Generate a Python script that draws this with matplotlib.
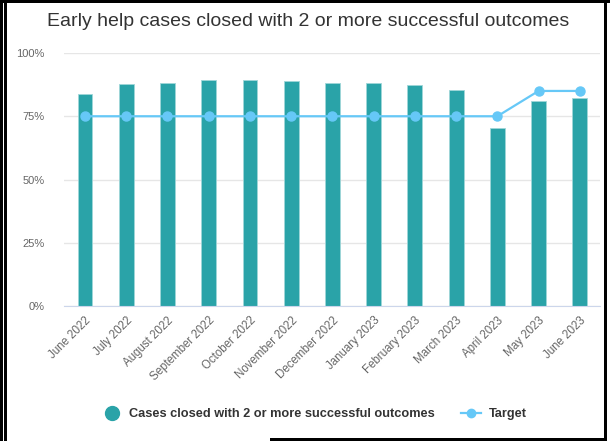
import matplotlib.pyplot as plt
from matplotlib.lines import Line2D
from matplotlib.patches import Rectangle

months = ["June 2022", "July 2022", "August 2022", "September 2022", "October 2022",
          "November 2022", "December 2022", "January 2023", "February 2023",
          "March 2023", "April 2023", "May 2023", "June 2023"]
cases = [83.9, 87.7, 88.3, 89.4, 89.4, 89.0, 88.0, 88.0, 87.4, 85.5, 70.2, 81.1, 82.1]
target = [75, 75, 75, 75, 75, 75, 75, 75, 75, 75, 75, 85, 85]

bar_col = "#2aa3a8"
line_col = "#66c8f7"

plt.rcParams['font.family'] = ['Liberation Sans', 'DejaVu Sans']

fig = plt.figure(figsize=(6.1, 4.41), dpi=100)
ax = fig.add_axes([64 / 610, 135 / 441, 536 / 610, 253 / 441])

x = list(range(len(months)))
ax.bar(x, cases, width=0.36, color=bar_col, edgecolor="#9fd6d8", linewidth=0.6, zorder=2)
ax.plot(x, target, color=line_col, lw=1.6, marker="o", ms=6.5, zorder=3)

ax.set_xlim(-0.51, 12.49)
ax.set_ylim(0, 100)
ax.set_yticks([0, 25, 50, 75, 100])
ax.set_yticklabels(["0%", "25%", "50%", "75%", "100%"])
ax.set_xticks(x)
ax.set_xticklabels(months, rotation=45, ha="right", rotation_mode="anchor")
ax.tick_params(axis="both", length=0, labelsize=8, labelcolor="#666666")
ax.tick_params(axis="x", pad=6, labelsize=8.3)
ax.tick_params(axis="y", pad=14)
ax.grid(axis="y", color="#e6e6e6", lw=1, zorder=0)
for s in ["top", "right", "left"]:
    ax.spines[s].set_visible(False)
ax.spines["bottom"].set_color("#ccd6eb")
ax.set_axisbelow(True)

fig.text(0.505, 1 - 22 / 441, "Early help cases closed with 2 or more successful outcomes",
         ha="center", va="center", fontsize=14, color="#333333")

handles = [
    Line2D([], [], ls="none", marker="o", ms=10, color=bar_col),
    Line2D([], [], color=line_col, lw=1.6, marker="o", ms=6),
]
fig.legend(handles, ["Cases closed with 2 or more successful outcomes", "Target"],
           loc="center", bbox_to_anchor=(0.515, 1 - 414 / 441), ncol=2, frameon=False,
           prop={"weight": "bold", "size": 9.2}, labelcolor="#333333",
           handlelength=1.6, columnspacing=2.0, handletextpad=0.6)

# frame around the screenshot
def band(x0, y0, w, h, c="black"):
    fig.add_artist(Rectangle((x0 / 610, 1 - (y0 + h) / 441), w / 610, h / 441,
                             transform=fig.transFigure, color=c, lw=0))

band(0, 0, 3, 441)
band(4, 0, 3, 441)
band(0, 0, 610, 3)
band(604, 0, 3, 441)
band(270, 438, 337, 3)

fig.savefig("out.png", dpi=100)
